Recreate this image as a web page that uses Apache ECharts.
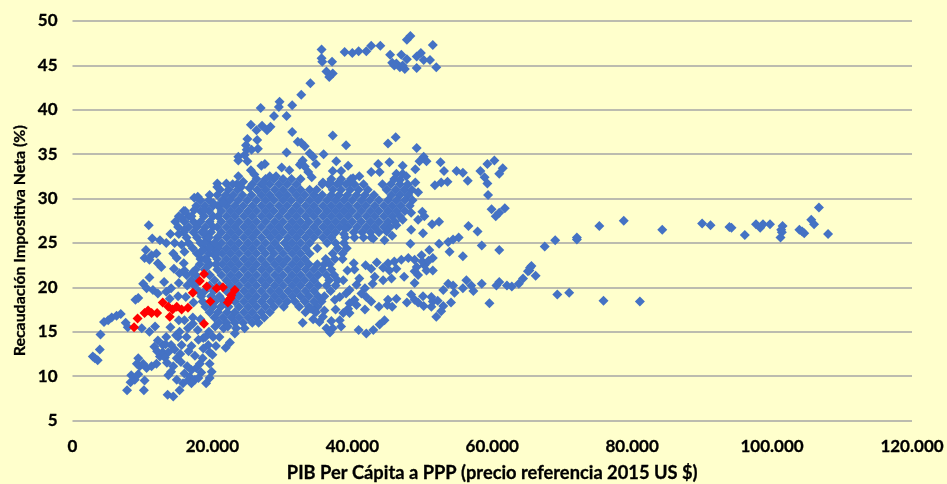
<!DOCTYPE html>
<html><head><meta charset="utf-8">
<style>html,body{margin:0;padding:0;background:#FFFFCC}#c{width:947px;height:484px}</style>
<script src="https://cdn.jsdelivr.net/npm/echarts@6/dist/echarts.min.js"></script>
</head><body><div id="c"></div>
<script>
// GDP in thousand US$, tax take in %
const redPoints = [[8.8,15.5],[9.3,16.5],[10.3,17.1],[10.8,17.4],[11.3,17.1],[12.1,17.1],[12.9,18.3],[13.7,17.8],[13.9,16.7],[14.3,17.5],[14.9,17.8],[15.6,17.5],[16.5,17.7],[18.8,15.9],[17.2,19.4],[19.7,18.4],[18.2,20.7],[18.8,21.5],[19.2,20.1],[20.6,19.9],[21.5,20.0],[23.2,19.7],[22.7,19.1],[22.6,18.8],[22.2,18.3],[22.4,18.6]];
const blueUpperArm = [[32.7,41.7],[34.0,43.0],[35.6,46.8],[35.6,45.8],[35.7,45.4],[37.1,45.4],[36.3,44.3],[37.2,44.1],[36.7,43.7],[38.9,46.5],[40.0,46.4],[40.9,46.6],[42.0,46.6],[42.7,47.2],[44.0,47.2],[45.4,46.2],[45.7,45.3],[46.3,45.2],[47.0,46.2],[46.8,44.8],[47.5,44.6],[47.8,45.7],[47.8,47.9],[48.3,48.3],[49.2,44.7],[49.2,46.0],[49.8,46.4],[51.5,47.3],[50.2,45.6],[51.1,45.6],[52.0,44.8],[46.0,45.0],[47.2,45.0]];
const blueMidRight = [[37.2,37.1],[39.1,36.0],[45.1,36.2],[46.2,36.9],[49.2,35.7],[50.2,34.7],[50.6,34.2],[49.6,34.2],[52.6,34.1],[53.1,33.1],[54.9,33.1],[55.8,32.9],[56.5,32.0],[51.8,31.5],[52.7,31.8],[53.6,31.9],[58.3,33.1],[58.9,32.4],[59.3,31.7],[59.3,33.9],[60.3,34.3],[61.5,33.4],[61.0,32.8],[59.4,30.4],[59.9,28.8],[61.8,28.9],[61.0,28.4],[60.5,28.0],[49.4,30.7],[49.0,31.8],[48.4,28.4],[50,28.5],[50.3,28.0],[35.9,35.0],[37.7,34.2],[34.8,33.9],[39.4,33.7],[37.2,33.1],[38.4,33.1],[40.1,32.3],[41.0,32.5],[43.7,33.9],[42.7,33.0],[43.9,33.0],[45.3,34.1],[47.2,33.7],[49.0,33.3],[46.3,32.8],[47.2,32.8],[47.7,32.5],[46.0,32.2],[46.8,32.1],[52.4,27.4],[51.4,27.1],[50.1,26.1],[56.6,26.9],[57.9,26.3],[55.2,25.6],[53.7,25.1],[52.4,24.9],[58.5,24.7],[53.9,24.0],[55.8,23.5],[61.0,24.2],[48.3,24.9],[45.7,25.8],[44.6,25.3],[48.4,26.5],[47.2,27.6],[46.3,27.0],[54.4,25.4],[49.4,27.6]];
const blueLowerBands = [[51.0,24.2],[49.9,23.6],[51.5,23.3],[48.9,23.1],[48,23.3],[47,23.1],[46,22.9],[45.1,22.7],[44.4,22.2],[43.5,22.8],[41.9,22.5],[42.7,22.1],[40.2,22.7],[39.3,21.9],[40.3,22.0],[43.2,21.2],[44.4,20.8],[42.9,20.4],[45.6,21.0],[47.4,21.2],[48.9,20.5],[49.4,21.4],[50.3,22.5],[51.5,21.9],[50.6,21.9],[48.9,21.8],[45.3,21.9],[46.3,22.1],[38.7,20.8],[50.0,22.9],[49.2,22.3],[50.9,23.0],
[53.0,19.7],[53.7,20.4],[54.4,20.2],[54.6,19.4],[55.8,19.9],[56.3,20.8],[57.0,20.2],[57.3,19.6],[58.5,20.4],[59.6,18.2],[60.6,20.2],[61.0,20.6],[62.1,20.2],[62.8,20.1],[63.8,20.4],[64.4,21.0],[65.1,21.8],[65.4,22.2],[48.4,19.2],[48.9,18.6],[47.8,18.3],[49.4,18.3],[50.1,19.0],[50.2,17.9],[51.3,18.9],[51.5,18.4],[51.3,17.8],[52.2,18.5],[53.0,17.9],[52.7,17.3],[52.0,16.7],[54.1,18.3],[46.3,18.7],[45.1,18.6],[45,18.0],[45.7,17.8],[43.8,17.8],[41.8,17.5],[42.7,18.4],[39.6,19.7],[40.6,20.3],[41,21],[41.8,19.9],[42,18.9],[41.3,19.3],[40.3,18.6],[39.1,19.3],[38.2,18.9],[37.5,18.6],[39.6,18.2],[40.6,18.0],[39.4,17.6],[39.6,17.1],[38.7,17.1],[38.2,16.3],[38.4,15.6],[37.2,15.4],[36.8,14.9],[36.3,15.4],[35.3,16.1],[35.8,16.7],[36.0,17.4],[34.6,17.3],[34.1,17.6],[32.9,16.0],[40.9,15.2],[42,14.8],[43,15.2],[43.9,15.8],[44.6,16.3],[37.0,16.2],[37.6,17.5],[34.4,16.4]];
const blueFarRight = [[65.6,22.4],[65.3,21.9],[66.2,21.3],[67.5,24.6],[69.0,25.3],[69.3,19.2],[71,19.4],[72.1,25.6],[72.1,25.4],[75.3,26.9],[75.9,18.5],[78.8,27.5],[81.1,18.4],[84.3,26.5],[90,27.2],[91.2,27.0],[93.9,26.8],[94.2,26.7],[96.1,25.9],[97.7,27.1],[98.3,26.7],[98.7,27.1],[99.7,27.1],[101.5,26.9],[101.3,26.5],[101.4,26.2],[101.2,25.6],[103.9,26.5],[104.6,26.1],[104.3,26.3],[105.6,27.6],[106,27.1],[106.7,29.0],[108,26.0]];
const blueLowerLeft = [[2.9,12.2],[3.6,11.8],[3.2,12.0],[3.9,13.0],[4.0,14.7],[4.5,16.1],[5.1,16.3],[5.6,16.6],[6.3,16.8],[6.9,17.0],[7.6,16.0],[7.9,15.5],[7.8,8.4],[8.3,9.3],[8.9,9.6],[8.4,10.1],[10.2,8.4],[10.3,9.5],[9.4,10.2],[9.6,11.1],[9.4,12],[10.6,10.9],[9.2,11.4],[10.1,11.4],[11.3,11.1],[12,11.4],[11.7,13.3],[12.5,12.2],[12.9,12.7],[13.4,14.4],[12.9,13.5],[13.7,12.7],[14.1,13.5],[15.1,14.4],[14.6,13.0],[14.9,12.0],[13.6,7.9],[14.4,7.7],[15.3,8.4],[13.7,10.1],[14.1,10.5],[14.9,9.6],[15.8,9.2],[16,10.3],[16.8,9.9],[17,10.7],[17.7,10.9],[18.2,11.4],[19.1,9.2],[19.6,9.8],[19.9,10.5],[19.6,11.4],[20,12.4],[16.6,9.6],[17.5,9.6],[17,9.2],[15.6,13.5],[16.3,14.4],[17,13.4],[16.5,15.4],[17.9,15.2],[18.7,13.1],[18.7,14.3],[19.4,13.5],[20.1,14.4],[19.6,12.7],[21.9,13.2],[21,14.4],[22.5,13.8],[23.2,14.8],[21.6,15.4],[22.2,15.6],[9.9,15.4],[11,15],[11.8,15.6],[14,15.5],[13.2,12.1],[15.5,11.6],[16.4,11.1],[18.4,10.4],[18.0,9.8],[12.2,14.0],[13.3,13.6],[14.8,14.6],[16.6,12.8],[12.1,12.8],[15.3,15.0],[19.5,15.0],[20.4,15.6],[16,16.3],[17.2,16.6],[18.3,16.4],[15.2,16.3],[17.2,15.9],[19,14.4],[18,14.1],[20.5,13.4],[15.4,12.5],[13.5,11.5],[14.4,11.1],[17.5,12.3],[18.6,12.0]];
const blueUpperLeft = [[10.9,27.0],[11.4,25.5],[14,26],[12.5,25.3],[13.4,25],[14.6,25],[10.5,24.2],[11.3,23.6],[12,23.8],[10.3,23.3],[11,23.1],[12.2,22.7],[12.7,22.3],[14.4,23.8],[14.9,23.3],[16,24],[11,21.1],[13.1,20.6],[10.1,20.4],[10.6,19.9],[11.5,19.7],[12.2,19.3],[9.4,18.8],[9,18.6],[13.4,19.5],[14.1,19.9],[15.3,21.6],[16,21.9],[17.2,21.7],[18.2,23.8],[19.4,22.5],[20.3,23.6],[16,26.5],[15.2,26.0],[15.6,24.8],[15.9,22.7],[14.5,22.1],[15.2,20.5],[16.4,20.2],[17.3,18.3],[15.1,19.0],[13.9,18.7],[16.2,18.9],[18.9,26.2],[20.1,26.8],[19.5,25.6],[18.8,25.0],[20.3,25.0],[19.6,24.4],[18.6,24.2],[20.6,23.8],[19.2,23.1],[20.5,22.6],[19.6,21.4],[28.3,25.6],
[26.9,40.2],[29.6,40.9],[29.5,40.3],[31.4,40.5],[28.8,39.3],[30.6,39.3],[25.5,38.3],[26.3,37.7],[27.1,38.2],[27.8,37.7],[28.3,38.1],[31.4,37.5],[32.2,36.4],[25,36.7],[26.4,36.6],[24.8,36],[24.9,35.5],[26.5,35.6],[25.6,35.5],[30.6,35.2],[23.7,34.7],[24.6,34.9],[23.7,34.3],[25,34.2],[27.5,33.9],[27,33.7],[29.9,33.5],[31,33.2],[32.5,33.8],[25.5,33.2],[26,32.7],[23.7,32.5],[24.4,31.9],[20.7,31.7],[20.7,31.3],[22,31.7],[22.9,31.6],[24.1,31.3],[25.3,31.2],[27.2,31.7],[28.2,32.5],[29.1,32.5],[17.9,30.2],[17.4,30.1],[20.1,29.5],[21.5,29.5],[17.4,28.7],[16.1,28.6],[18.9,28.7],[15.6,27.8],[17,28],[20.1,28],
[32.7,36.3],[33.2,35.9],[33.9,35.1],[34.4,34.7],[32.7,34],[33.2,33.6],[34.2,32.4],[33.7,33],[32.9,34.3],[35.8,31.8],[34.9,31],[36.8,31.8],[38.2,31.8],[39.6,31.8],[38.8,26.0],[39.0,26.6],[44.9,26.3],[43.0,25.5]];
// dense core, read band by band: [tax, gdp values]
const blueCoreRows = [
[32.2,[26.3,27.6,28.8,30.1,31.3,32.6,37.0,38.4,39.8]],
[31.6,[23.5,25.7,27.0,28.2,29.5,30.7,32.0,35.7,36.6,37.8,39.1,40.3,41.6,44.3,45.5,46.8,47.9]],
[31.0,[21.1,22.3,23.6,26.4,27.6,28.9,30.1,31.4,32.6,33.9,37.2,38.4,39.7,40.9,42.2,44.9,46.2,47.4,48.5]],
[30.4,[19.6,20.7,21.9,23.0,24.3,25.6,27.0,28.2,29.5,30.7,32.0,33.2,34.5,35.7,37.0,38.1,39.3,40.6,41.8,43.1,45.6,46.8,48.0]],
[29.8,[18.3,19.5,21.4,22.5,23.7,25.0,26.3,27.6,28.8,30.1,31.3,32.6,33.9,35.1,36.4,37.6,38.8,40.0,41.3,42.5,43.8,45.1,46.3,47.5,48.6]],
[29.2,[17.7,18.9,20.1,20.8,22.0,23.2,24.4,25.7,27.0,28.2,29.5,30.7,32.0,33.3,34.5,35.8,37.0,38.2,39.4,40.7,41.9,43.2,44.5,45.7,46.9,48.2]],
[28.6,[15.9,18.3,19.5,21.3,22.6,23.8,25.1,26.3,27.6,28.8,30.1,31.4,32.6,33.9,35.1,36.4,37.6,38.8,40.0,41.3,42.6,43.8,45.1,46.3,47.5]],
[28.0,[15.2,16.6,18.8,20.8,22.0,23.2,24.5,25.7,27.0,28.2,29.5,30.8,32.0,33.3,34.5,35.8,37.0,38.2,39.4,40.7,42.0,43.2,44.5,45.7,46.8]],
[27.4,[14.7,16.0,17.3,18.3,19.6,21.3,22.6,23.8,25.1,26.3,27.6,28.9,30.1,31.4,32.6,33.8,35.1,36.4,37.6,38.8,40.0,41.3,42.6,43.8,45.1,46.1]],
[26.8,[15.1,16.6,17.8,19.0,20.7,22.0,23.2,24.5,25.7,27.0,28.3,29.5,30.8,32.0,33.2,34.5,35.8,37.0,38.2,39.4,40.7,42.0,43.2,44.5,45.4]],
[26.2,[15.9,17.3,18.5,19.8,21.3,22.6,23.8,25.1,26.3,27.7,28.9,30.1,31.4,32.6,33.9,35.1,36.4,37.6,40.2,41.4,42.6,43.8]],
[25.6,[16.3,17.8,19.1,20.7,22.0,23.2,24.5,25.7,27.0,29.5,30.8,32.0,33.3,34.5,35.8,37.0,39.0,40.3,41.6,42.7]],
[25.0,[16.6,18.3,19.5,21.3,22.6,23.8,25.1,26.3,27.6,28.9,30.3,31.4,32.6,33.9,36.4,37.6,38.8]],
[24.4,[17.2,18.9,20.1,20.8,22.0,23.2,24.5,25.7,27.0,28.3,29.5,30.8,32.0,33.3,35.0,37.9,39.2]],
[23.8,[17.8,19.5,21.4,22.6,23.8,25.1,26.3,27.6,28.8,30.1,31.4,32.6,33.9,37.2,38.6]],
[23.2,[18.3,18.9,20.7,22.0,23.2,24.5,25.7,27.0,28.3,29.5,30.7,32.0,33.2,36.2,37.5,38.6]],
[22.6,[18.2,19.6,21.4,22.6,23.8,25.1,26.3,27.6,28.9,30.1,31.4,32.6,33.8,35.0,36.0,36.8]],
[22.0,[17.6,18.9,20.7,22.0,23.2,24.5,25.7,27.0,28.2,29.5,30.8,32.0,33.3,34.5,35.7,37.0]],
[21.4,[16.3,17.6,19.6,21.3,22.6,23.8,25.1,26.3,27.6,28.9,30.1,31.4,32.6,33.9,35.1,36.3,37.4]],
[20.8,[17.0,18.0,20.3,22.0,23.2,24.5,25.7,27.0,28.2,29.5,30.8,32.0,33.2,34.5,36.7,37.9]],
[20.2,[17.4,19.6,21.0,22.6,23.8,25.1,26.3,27.6,28.9,30.1,31.4,32.6,33.9,35.1,36.3,37.6]],
[19.6,[18.0,18.9,20.2,22.0,23.2,24.5,25.7,27.0,28.3,29.5,30.8,32.0,33.3,34.5,36.9]],
[19.0,[18.4,19.8,21.0,23.8,25.1,26.3,27.6,28.9,30.1,31.4,32.6,33.8,35.1,36.0]],
[18.4,[18.6,20.4,21.6,23.2,24.5,25.7,27.0,28.3,29.5,30.7,31.8,33.2,34.5,35.6]],
[17.8,[19.0,20.1,21.2,22.3,23.8,25.1,26.3,27.6,28.8,30.2,32.4,33.8,35.0]],
[17.2,[19.6,20.8,22.1,23.2,24.5,25.7,27.0,28.2,33.3,34.8]],
[16.6,[20.3,21.5,22.7,23.8,25.1,26.3,27.4]],
[16.0,[20.9,22.0,23.2,24.4,25.7,26.6]],
[15.4,[23.4,24.6]]
];
const blueCore = blueCoreRows.flatMap(([tax, gdps]) => gdps.map(g => [g, tax]));
const bluePoints = [...blueCore, ...blueUpperArm, ...blueMidRight, ...blueLowerBands, ...blueFarRight, ...blueLowerLeft, ...blueUpperLeft];
const xAxisTitle = 'PIB Per Cápita a PPP (precio referencia 2015 US $)';
const yAxisTitle = 'Recaudación Impositiva Neta (%)';
const font = 'Lato, "Open Sans", sans-serif';
const toUSD = p => [p[0]*1000, p[1]];
const chart = echarts.init(document.getElementById('c'), null, {renderer:'canvas'});
chart.setOption({
  animation:false,
  backgroundColor:'#FFFFCC',
  grid:{left:72.5,right:35,top:21,bottom:63.5,outerBoundsMode:'none'},
  xAxis:{type:'value',min:0,max:120000,interval:20000,
    name:xAxisTitle,nameLocation:'middle',nameGap:44,nameMoveOverlap:false,
    nameTextStyle:{color:'#000',fontFamily:font,fontWeight:'bold',fontSize:18.3,textBorderColor:'#000',textBorderWidth:0.3},
    axisLine:{show:false},axisTick:{show:false},splitLine:{show:false},
    axisLabel:{color:'#000',fontFamily:font,fontWeight:'bold',fontSize:17,margin:18,hideOverlap:false,showMinLabel:true,showMaxLabel:true,textBorderColor:'#000',textBorderWidth:0.3,
      formatter:v=>v===0?'0':(v/1000)+'.000'}},
  yAxis:{type:'value',min:5,max:50,interval:5,
    name:yAxisTitle,nameLocation:'middle',nameGap:45,nameMoveOverlap:false,
    nameTextStyle:{color:'#000',fontFamily:font,fontWeight:'bold',fontSize:15.9,textBorderColor:'#000',textBorderWidth:0.3,padding:[0,40,0,0]},
    axisLine:{show:false},axisTick:{show:false},
    splitLine:{show:true,lineStyle:{color:'#A6A6A6',width:1.5}},
    axisLabel:{color:'#000',fontFamily:font,fontWeight:'bold',fontSize:17,margin:15,textBorderColor:'#000',textBorderWidth:0.3}},
  series:[
    {type:'scatter',symbol:'diamond',symbolSize:10,large:false,itemStyle:{color:'#4472C4',opacity:1},data:bluePoints.map(toUSD),z:2},
    {type:'scatter',symbol:'diamond',symbolSize:10,large:false,itemStyle:{color:'#FF0000',opacity:1},data:redPoints.map(toUSD),z:3}
  ]
});
</script></body></html>
